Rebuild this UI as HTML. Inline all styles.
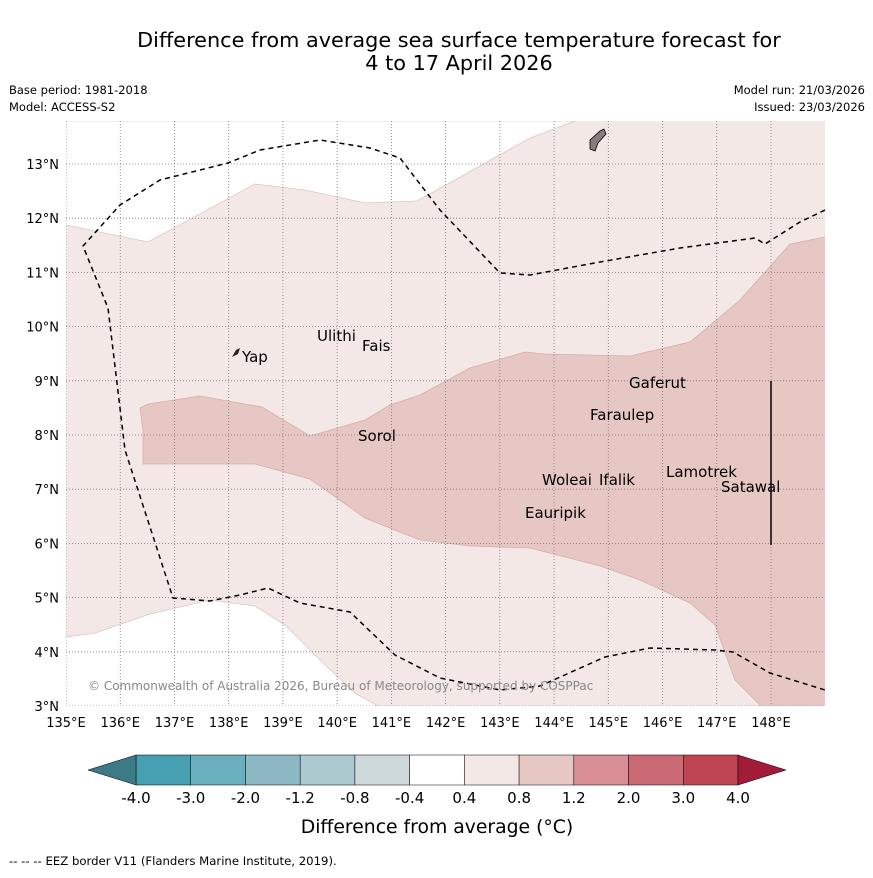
<!DOCTYPE html>
<html><head><meta charset="utf-8"><style>
body{margin:0;background:#fff;width:873px;height:873px;overflow:hidden;font-family:"Liberation Sans","DejaVu Sans",sans-serif}
</style></head><body>
<svg id="s" width="873" height="873" xmlns="http://www.w3.org/2000/svg" font-family="DejaVu Sans, Liberation Sans, sans-serif">
<text x="459" y="47" font-size="20.8" text-anchor="middle">Difference from average sea surface temperature forecast for</text>
<text x="459" y="70" font-size="20.8" text-anchor="middle">4 to 17 April 2026</text>
<text x="9" y="94" font-size="11.5">Base period: 1981-2018</text>
<text x="9" y="111" font-size="11.5">Model: ACCESS-S2</text>
<text x="865" y="94" font-size="11.5" text-anchor="end">Model run: 21/03/2026</text>
<text x="865" y="111" font-size="11.5" text-anchor="end">Issued: 23/03/2026</text>
<defs><clipPath id="mc"><rect x="66" y="121" width="759" height="585"/></clipPath></defs>
<g clip-path="url(#mc)">
<rect x="66" y="121" width="759" height="585" fill="#f4e8e7"/>
<polygon fill="#fff" stroke="#d8c8c6" stroke-width="0.8" points="60,121 60,225 66,225 148,242 255,184 305,190 365,203 417,201 455,180 530,138 575,121"/>
<polygon fill="#fff" stroke="#d8c8c6" stroke-width="0.8" points="60,637 66,637 95,633 150,614 210,600 255,606 285,625 320,660 355,693 385,710 60,710"/>
<polygon fill="#e6c7c3" stroke="#d4b0ab" stroke-width="0.8" points="140,408 148,404 200,396 262,407 310,436 365,420 390,405 420,395 470,368 525,352 545,354 630,356 690,342 740,300 790,244 830,236 830,710 765,710 735,680 715,625 690,603 640,580 600,566 530,548 470,546 420,540 365,518 310,479 255,464 143,464 143,430"/>
<g id="grid"></g>
<polyline fill="none" stroke="#000" stroke-width="1.5" stroke-dasharray="5,4" points="825,210 800,222 765,244 755,238 680,248 600,262 530,275 500,273 440,210 400,158 370,148 320,140 260,150 228,163 160,180 120,205 83,246 108,308 125,450 173,598 210,601 240,595 268,588 300,603 350,612 395,655 440,678 500,690 540,686 605,657 650,648 715,650 733,652 770,673 825,690"/>
<line x1="771" y1="381" x2="771" y2="545" stroke="#000" stroke-width="1.5"/>
<path d="M590,140 L600,131 L604,129 L606,134 L598,143 L595,151 L590,149 Z" fill="#8a7a7a" stroke="#000" stroke-width="0.8"/>
<path d="M232,357 L236,350 L240,348 L238,354 Z" fill="#222"/>
<g font-size="15" fill="#000">
<text x="242" y="362">Yap</text>
<text x="317" y="341">Ulithi</text>
<text x="362" y="351">Fais</text>
<text x="629" y="388">Gaferut</text>
<text x="590" y="420">Faraulep</text>
<text x="358" y="441">Sorol</text>
<text x="542" y="485">Woleai</text>
<text x="599" y="485">Ifalik</text>
<text x="666" y="477">Lamotrek</text>
<text x="721" y="492">Satawal</text>
<text x="525" y="518">Eauripik</text>
</g>
<text x="88" y="690" font-size="12" fill="#888">© Commonwealth of Australia 2026, Bureau of Meteorology, supported by COSPPac</text>
</g>
<g id="axes"></g>
<g id="cbar"></g>
<text x="437" y="833" font-size="18.8" text-anchor="middle">Difference from average (°C)</text>
<text x="9" y="865" font-size="11.7">-- -- -- EEZ border V11 (Flanders Marine Institute, 2019).</text>
</svg>
<script>
const lonTicks=[135,136,137,138,139,140,141,142,143,144,145,146,147,148];
const latTicks=[3,4,5,6,7,8,9,10,11,12,13];
const cbarLevels=["-4.0","-3.0","-2.0","-1.2","-0.8","-0.4","0.4","0.8","1.2","2.0","3.0","4.0"];
const cbarColors=["#47a0b1","#6aafbd","#8cb8c3","#abc9ce","#cdd8da","#ffffff","#f4e8e7","#e6c7c3","#d88e94","#cb6a74","#bf4552"];
const lowColor="#3b7a86", highColor="#a21c39";
const NS="http://www.w3.org/2000/svg";
const px=d=>66+(d-135)*54.23, py=d=>706-(d-3)*54.2;
function mk(t,a,p){const e=document.createElementNS(NS,t);for(const k in a)e.setAttribute(k,a[k]);p.appendChild(e);return e;}
const g=document.getElementById('grid'),ax=document.getElementById('axes'),cb=document.getElementById('cbar');
lonTicks.forEach(v=>{const l=mk('line',{x1:px(v),x2:px(v),y1:121,y2:706,stroke:'#777','stroke-width':0.8,'stroke-dasharray':'1,2'},g);


const t=mk('text',{x:px(v),y:727,'font-size':13,'text-anchor':'middle'},ax);t.textContent=v+'°E';

});
latTicks.forEach(v=>{const l=mk('line',{x1:66,x2:825,y1:py(v),y2:py(v),stroke:'#777','stroke-width':0.8,'stroke-dasharray':'1,2'},g);


const t=mk('text',{x:59,y:py(v)+5,'font-size':13,'text-anchor':'end'},ax);t.textContent=v+'°N';

});
const x0=136,w=(738-136)/cbarColors.length,y0=755,h=30;
cbarColors.forEach((c,i)=>{const r=mk('rect',{x:x0+i*w,y:y0,width:w,height:h,fill:c,stroke:'#000','stroke-width':0.5},cb);

});
const tl=mk('polygon',{points:`${x0},${y0} ${x0},${y0+h} 88,${y0+h/2}`,fill:lowColor,stroke:'#000','stroke-width':0.5},cb);


const th=mk('polygon',{points:`738,${y0} 738,${y0+h} 786,${y0+h/2}`,fill:highColor,stroke:'#000','stroke-width':0.5},cb);


cbarLevels.forEach((s,i)=>{const t=mk('text',{x:x0+i*w,y:803,'font-size':15,'text-anchor':'middle'},cb);t.textContent=s;

});
</script>
</body></html>
